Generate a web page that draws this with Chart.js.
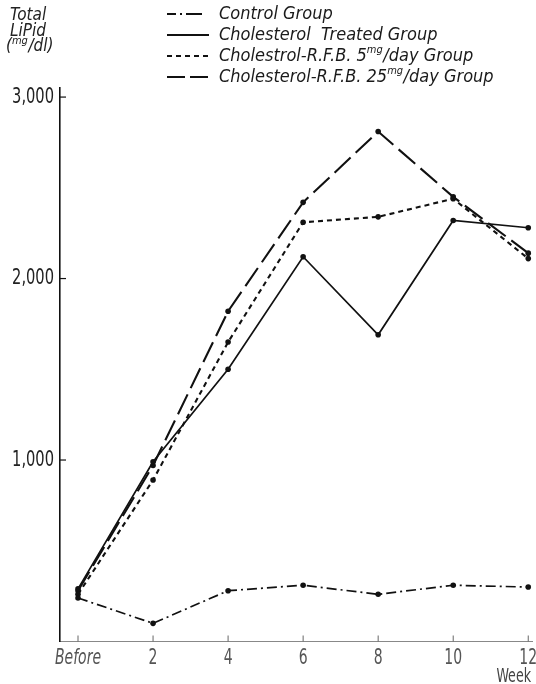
<!DOCTYPE html>
<html>
<head>
<meta charset="utf-8">
<script src="https://cdn.jsdelivr.net/npm/chart.js@4/dist/chart.umd.min.js"></script>
<style>
  html, body { margin: 0; padding: 0; background: #fff; }
  #c { display: block; }
</style>
</head>
<body>
<canvas id="c" width="536" height="684"></canvas>
<script>
// Total lipid (mg/dl) by week for each treatment group
const weeks = [0, 2, 4, 6, 8, 10, 12];
const weekLabels = ['Before', '2', '4', '6', '8', '10', '12'];
const controlGroup = [240, 100, 280, 310, 260, 310, 300];
const cholesterolTreated = [290, 990, 1500, 2120, 1690, 2320, 2280];
const rfb5mg = [260, 890, 1650, 2310, 2340, 2440, 2110];
const rfb25mg = [280, 970, 1820, 2420, 2810, 2450, 2140];
const lipidTicks = [1000, 2000, 3000];
const groupNames = [
  'Control Group',
  'Cholesterol  Treated Group',
  'Cholestrol-R.F.B. 5^mg/day Group',
  'Cholesterol-R.F.B. 25^mg/day Group'
];

const FONT = "'Liberation Sans Narrow', 'DejaVu Sans Condensed', 'Arial Narrow', sans-serif";

function toPoints(values) {
  return values.map((v, i) => ({ x: weeks[i], y: v }));
}

// Text with "^xx" segments drawn as superscript
function drawRich(ctx, text, x, y, size, color) {
  const parts = text.split(/\^([a-z]+)/);
  ctx.fillStyle = color;
  ctx.textBaseline = 'middle';
  ctx.textAlign = 'left';
  let cx = x;
  parts.forEach((p, idx) => {
    if (!p) return;
    const sup = idx % 2 === 1;
    ctx.font = 'italic ' + (sup ? Math.round(size * 0.62) : size) + 'px ' + FONT;
    ctx.fillText(p, cx, sup ? y - size * 0.33 : y);
    cx += ctx.measureText(p).width + (sup ? 0.5 : 0);
  });
}

// Tall, narrow tick label
function drawNarrow(ctx, text, x, y, size, align, color, italic) {
  ctx.save();
  ctx.translate(x, y);
  ctx.scale(0.74, 1);
  ctx.font = (italic ? 'italic ' : '') + size + 'px ' + FONT;
  ctx.fillStyle = color;
  ctx.textAlign = align;
  ctx.textBaseline = 'middle';
  ctx.fillText(text, 0, 0);
  ctx.restore();
}

const decorations = {
  id: 'decorations',
  afterDraw(chart) {
    const ctx = chart.ctx;
    const xs = chart.scales.x, ys = chart.scales.y;
    const area = chart.chartArea;
    ctx.save();

    // y axis tick marks (pointing into the plot) and labels
    ctx.strokeStyle = '#111';
    ctx.lineWidth = 1.2;
    lipidTicks.forEach(v => {
      const py = ys.getPixelForValue(v);
      ctx.beginPath();
      ctx.moveTo(area.left, py);
      ctx.lineTo(area.left + 6, py);
      ctx.stroke();
      drawNarrow(ctx, v.toLocaleString('en-US'), area.left - 6, py, 22, 'right', '#222', false);
    });

    // x axis tick marks (pointing up) and labels
    ctx.strokeStyle = '#666';
    ctx.lineWidth = 1;
    weeks.forEach((w, i) => {
      const px = xs.getPixelForValue(w);
      ctx.beginPath();
      ctx.moveTo(px, area.bottom);
      ctx.lineTo(px, area.bottom - 6);
      ctx.stroke();
      drawNarrow(ctx, weekLabels[i], px, area.bottom + 17, 21, 'center', '#555', i === 0);
    });

    // y axis title
    drawRich(ctx, 'Total', 10, 16, 17, '#222');
    drawRich(ctx, 'LiPid', 10, 32, 17, '#222');
    drawRich(ctx, '(^mg/dl)', 6, 47, 17, '#222');

    // legend
    chart.data.datasets.forEach((ds, i) => {
      const y = 14 + i * 21;
      ctx.strokeStyle = '#111';
      ctx.lineWidth = 2;
      ctx.setLineDash(ds.sampleDash);
      ctx.beginPath();
      ctx.moveTo(167, y);
      ctx.lineTo(209, y);
      ctx.stroke();
      ctx.setLineDash([]);
      drawRich(ctx, ds.label, 219, y, 18, '#1a1a1a');
    });

    // x axis unit
    drawNarrow(ctx, 'Week', 531, 677, 19, 'right', '#444', false);
    ctx.restore();
  }
};

const common = {
  fill: false,
  tension: 0,
  borderColor: '#111',
  pointBackgroundColor: '#111',
  pointBorderColor: '#111',
  pointRadius: 2.8,
  pointBorderWidth: 0
};

new Chart(document.getElementById('c'), {
  type: 'line',
  data: {
    datasets: [
      Object.assign({}, common, { label: groupNames[0], data: toPoints(controlGroup),
        borderWidth: 1.7, borderDash: [10, 4, 2, 4], sampleDash: [9, 4, 2, 4, 16] }),
      Object.assign({}, common, { label: groupNames[1], data: toPoints(cholesterolTreated),
        borderWidth: 1.7, borderDash: [], sampleDash: [] }),
      Object.assign({}, common, { label: groupNames[2], data: toPoints(rfb5mg),
        borderWidth: 2.1, borderDash: [5, 4], sampleDash: [5, 4] }),
      Object.assign({}, common, { label: groupNames[3], data: toPoints(rfb25mg),
        borderWidth: 2.1, borderDash: [22, 7], sampleDash: [18, 5] })
    ]
  },
  options: {
    responsive: false,
    animation: false,
    layout: { padding: { left: 0, right: 3, top: 88, bottom: 0 } },
    plugins: { legend: { display: false }, tooltip: { enabled: false } },
    scales: {
      x: {
        type: 'linear',
        min: -0.48,
        max: 12.1,
        afterBuildTicks: s => { s.ticks = weeks.map(v => ({ value: v })); },
        afterFit: s => { s.height = 42.5; s.paddingLeft = 0; s.paddingRight = 0; },
        grid: { display: false, drawTicks: false },
        border: { display: true, color: '#888', width: 1, dash: [6, 4] },
        ticks: { display: false }
      },
      y: {
        min: 0,
        max: 3050,
        afterBuildTicks: s => { s.ticks = lipidTicks.map(v => ({ value: v })); },
        afterFit: s => { s.width = 60; s.paddingTop = 0; s.paddingBottom = 0; },
        grid: { display: false, drawTicks: false },
        border: { display: true, color: '#111', width: 1.6 },
        ticks: { display: false }
      }
    }
  },
  plugins: [decorations]
});
</script>
</body>
</html>
